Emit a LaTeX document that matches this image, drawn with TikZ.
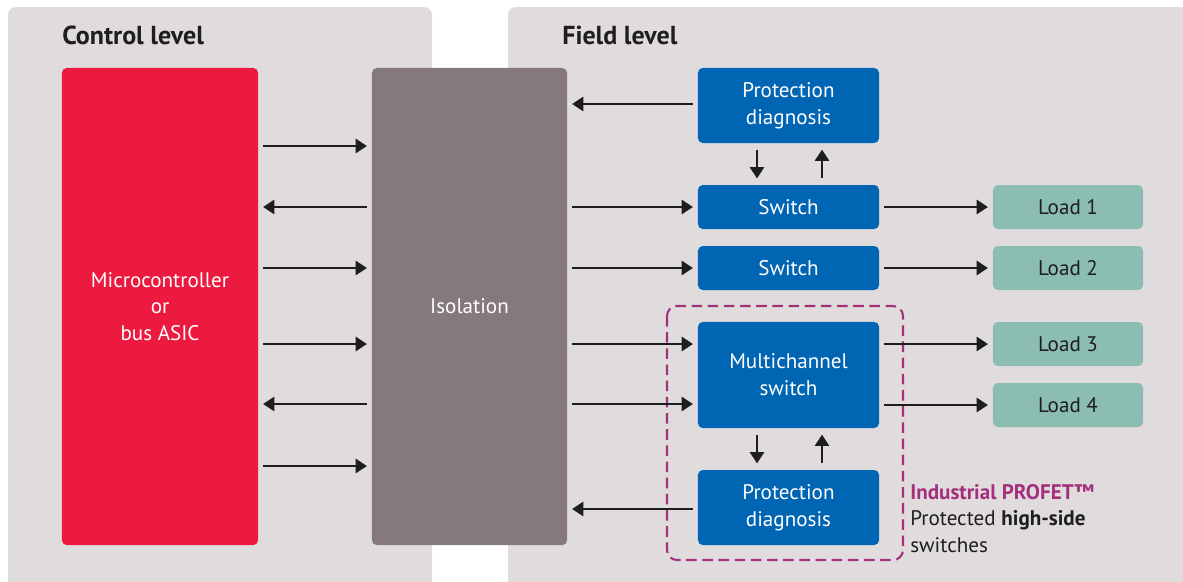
\documentclass[tikz,border=0pt]{standalone}
\usepackage{fontspec}
\setmainfont{PT Sans}
\usetikzlibrary{arrows.meta,positioning}
\definecolor{panelgray}{HTML}{E0DCDD}
\definecolor{mcured}{HTML}{EC1A3F}
\definecolor{isogray}{HTML}{86797C}
\definecolor{ifxblue}{HTML}{0065B3}
\definecolor{loadgreen}{HTML}{8BBDB3}
\definecolor{profet}{HTML}{A4307D}
\definecolor{inkdark}{HTML}{1E1E1E}
\tikzset{
  blockbox/.style={rounded corners=0.12cm, inner sep=0pt, align=center,
    font=\fontsize{15}{19}\selectfont},
  bluebox/.style={blockbox, fill=ifxblue, text=white,
    minimum width=4.525cm},
  loadbox/.style={blockbox, fill=loadgreen, text=inkdark,
    minimum width=3.75cm, minimum height=1.1cm},
  flow/.style={draw=inkdark, line width=1.1pt,
    -{Triangle[length=0.28cm, width=0.36cm]},
    shorten <=0.12cm, shorten >=0.12cm},
  updown/.style={flow, shorten <=0.16cm, shorten >=0.16cm},
  leveltitle/.style={anchor=west, inner sep=0pt, text=inkdark,
    font=\fontsize{18.5}{22}\selectfont\bfseries}
}
\begin{document}
\begin{tikzpicture}[x=0.025cm, y=-0.025cm]
\clip (0,0) rectangle (1183,581);

% Panels
\fill[panelgray, rounded corners=0.2cm] (8,7) rectangle (432,620);
\fill[panelgray, rounded corners=0.2cm] (508,7) rectangle (1220,620);
\node[leveltitle] (ctrl) at (62,35) {Control level};
\node[leveltitle] (field) at (562,35) {Field level};

% Control side blocks
\node[blockbox, fill=mcured, text=white, minimum width=4.9cm,
  minimum height=11.925cm] (mcu) at (160,306.5)
  {Microcontroller\\or\\bus ASIC};
\node[blockbox, fill=isogray, text=white, minimum width=4.875cm,
  minimum height=11.925cm] (iso) at (469.5,306.5) {Isolation};

% Field side blocks
\node[bluebox, minimum height=1.875cm] (pdtop) at (788.5,105.5)
  {Protection\\diagnosis};
\node[bluebox, minimum height=1.1cm] (swa) at (788.5,207) {Switch};
\node[bluebox, minimum height=1.1cm] (swb) at (788.5,268) {Switch};
\node[bluebox, minimum height=2.65cm] (multi) at (788.5,375)
  {Multichannel\\switch};
\node[bluebox, minimum height=1.875cm] (pdbot) at (788.5,507.5)
  {Protection\\diagnosis};

% Loads
\node[loadbox] (loada) at (1068,207) {Load 1};
\node[loadbox] (loadb) at (1068,268) {Load 2};
\node[loadbox] (loadc) at (1068,344) {Load 3};
\node[loadbox] (loadd) at (1068,405) {Load 4};

% PROFET frame
\draw[profet, line width=1.5pt, dash pattern=on 7.5pt off 4pt,
  rounded corners=0.25cm] (667,306) rectangle (903,560);
\node[anchor=north west, align=left, inner sep=0pt, text=inkdark,
  font=\fontsize{15}{18.8}\selectfont] (profettxt) at (910,484)
  {\textcolor{profet}{\bfseries Industrial PROFET™}\\
   Protected \textbf{high-side}\\switches};

% Microcontroller <-> isolation
\foreach \y in {146,268,344,466}
  \draw[flow] (mcu.east |- 0,\y) -- (iso.west |- 0,\y);
\foreach \y in {207,404}
  \draw[flow] (iso.west |- 0,\y) -- (mcu.east |- 0,\y);

% Isolation <-> field blocks
\draw[flow] (pdtop.west |- 0,104) -- (iso.east |- 0,104);
\draw[flow] (iso.east |- swa) -- (swa);
\draw[flow] (iso.east |- swb) -- (swb);
\draw[flow] (iso.east |- 0,344) -- (multi.west |- 0,344);
\draw[flow] (iso.east |- 0,404) -- (multi.west |- 0,404);
\draw[flow] (pdbot.west |- 0,509) -- (iso.east |- 0,509);

% Diagnosis loops
\draw[updown] (pdtop.south -| 757,0) -- (swa.north -| 757,0);
\draw[updown] (swa.north -| 822,0) -- (pdtop.south -| 822,0);
\draw[updown] (multi.south -| 757,0) -- (pdbot.north -| 757,0);
\draw[updown] (pdbot.north -| 822,0) -- (multi.south -| 822,0);

% Switches to loads
\draw[flow] (swa) -- (loada);
\draw[flow] (swb) -- (loadb);
\draw[flow] (multi.east |- loadc) -- (loadc);
\draw[flow] (multi.east |- loadd) -- (loadd);
\end{tikzpicture}
\end{document}
